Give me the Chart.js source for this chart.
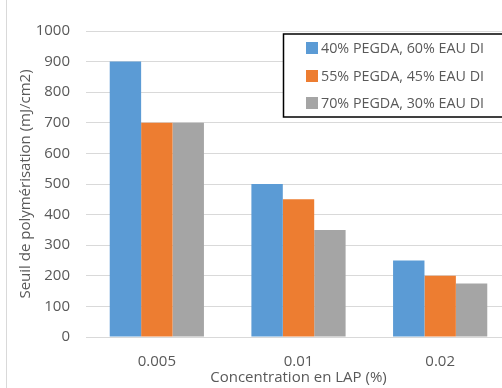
<!DOCTYPE html>
<html>
<head>
<meta charset="utf-8">
<script src="https://cdn.jsdelivr.net/npm/chart.js@4.4.1/dist/chart.umd.min.js"></script>
<style>
  html, body { margin: 0; padding: 0; background: #fff; overflow: hidden; }
  #wrap { position: relative; width: 514px; height: 388px; }
  #frame { position: absolute; left: 6px; top: 0; width: 1px; height: 388px; background: #d9d9d9; }
</style>
</head>
<body>
<div id="wrap">
  <canvas id="c" width="514" height="388"></canvas>
  <div id="frame"></div>
</div>
<script>
const categories = ['0.005', '0.01', '0.02'];
const seriesNames = ['40% PEGDA, 60% EAU DI', '55% PEGDA, 45% EAU DI', '70% PEGDA, 30% EAU DI'];
const series40 = [900, 500, 250];
const series55 = [700, 450, 200];
const series70 = [700, 350, 175];
const yTicks = [0, 100, 200, 300, 400, 500, 600, 700, 800, 900, 1000];
const colors = ['#5B9BD5', '#ED7D31', '#A5A5A5'];
const textColor = '#595959';
const FONT = "'Open Sans', 'Liberation Sans', sans-serif";

const legendBox = {
  id: 'legendBox',
  afterDraw(chart) {
    const ctx = chart.ctx;
    ctx.save();
    const x0 = 283.5, y0 = 34, x1 = chart.width + 10, y1 = 117;
    ctx.fillStyle = '#fff';
    ctx.fillRect(x0, y0, x1 - x0, y1 - y0);
    ctx.strokeStyle = '#000';
    ctx.lineWidth = 1.5;
    ctx.strokeRect(x0, y0, x1 - x0, y1 - y0);
    const rows = [48, 76, 103];
    ctx.font = '14.3px ' + FONT;
    ctx.textBaseline = 'middle';
    ctx.textAlign = 'left';
    chart.data.datasets.forEach((ds, i) => {
      ctx.fillStyle = ds.backgroundColor;
      ctx.fillRect(306, rows[i] - 6, 12, 12);
      ctx.fillStyle = textColor;
      ctx.fillText(ds.label, 321, rows[i] + 1);
    });
    ctx.restore();
  }
};

new Chart(document.getElementById('c'), {
  type: 'bar',
  data: {
    labels: categories,
    datasets: [
      { label: seriesNames[0], data: series40, backgroundColor: colors[0] },
      { label: seriesNames[1], data: series55, backgroundColor: colors[1] },
      { label: seriesNames[2], data: series70, backgroundColor: colors[2] }
    ]
  },
  options: {
    responsive: false,
    animation: false,
    devicePixelRatio: 1,
    layout: { padding: { top: 31, right: 3, left: 0, bottom: 0 } },
    datasets: { bar: { categoryPercentage: 0.665, barPercentage: 1.0, borderWidth: 0 } },
    plugins: { legend: { display: false }, tooltip: { enabled: false } },
    scales: {
      x: {
        grid: { display: false },
        border: { display: false },
        ticks: { color: textColor, font: { family: FONT, size: 15 }, padding: 8 },
        title: { display: true, text: 'Concentration en LAP (%)', color: textColor,
                 font: { family: FONT, size: 15 }, padding: { top: 0, bottom: 1 } },
        afterFit(scale) { scale.height = 51; }
      },
      y: {
        min: 0, max: 1000,
        afterBuildTicks(scale) { scale.ticks = yTicks.map(v => ({ value: v })); },
        grid: { color: '#d9d9d9', lineWidth: 1, drawTicks: false },
        border: { display: false },
        ticks: { color: textColor, font: { family: FONT, size: 15 }, padding: 16,
                 callback: (v) => String(v) },
        title: { display: true, text: 'Seuil de polymérisation (mJ/cm2)', color: textColor,
                 font: { family: FONT, size: 15 }, padding: { top: 17, bottom: 0 } },
        afterFit(scale) { scale.width = 86; }
      }
    }
  },
  plugins: [legendBox]
});
</script>
</body>
</html>
